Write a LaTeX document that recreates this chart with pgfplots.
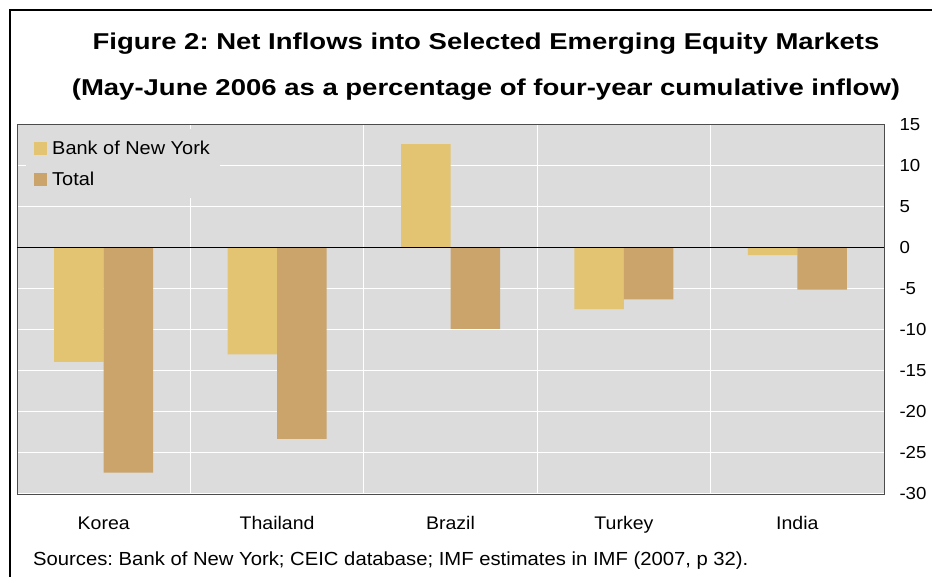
\documentclass[border=0pt]{standalone}
\usepackage{fontspec}
\setmainfont{Liberation Sans}[FakeStretch=1.07]
\newfontfamily\titlefont{Liberation Sans}[FakeStretch=1.2]
\usepackage{pgfplots}
\pgfplotsset{compat=1.18}
\definecolor{bny}{HTML}{E3C473}
\definecolor{tot}{HTML}{CBA46C}
\definecolor{bg}{HTML}{DCDCDC}
\frenchspacing
\begin{document}
\begin{tikzpicture}[x=1bp,y=1bp]
\useasboundingbox (0,0) rectangle (932,577);
\draw[line width=2bp] (10,0) -- (10,567) -- (932,567);
\node[font=\titlefont\bfseries\fontsize{23}{27}\selectfont] at (486,533) {Figure 2: Net Inflows into Selected Emerging Equity Markets};
\node[font=\titlefont\bfseries\fontsize{23}{27}\selectfont] at (486,487) {(May-June 2006 as a percentage of four-year cumulative inflow)};
\node[anchor=west, font=\fontsize{19}{22}\selectfont, inner sep=0pt] at (33,16.5) {Sources: Bank of New York; CEIC database; IMF estimates in IMF (2007, p 32).};
\begin{axis}[
  at={(17bp,83bp)}, anchor=south west,
  width=867bp, height=369.5bp, scale only axis,
  xmin=-0.5, xmax=4.5, ymin=-30, ymax=15,
  axis background/.style={fill=bg},
  axis line style={draw=black!70, line width=0.8bp},
  ybar=0pt, bar width=49.5bp,
  xtick={0,1,2,3,4},
  xticklabels={Korea,Thailand,Brazil,Turkey,India},
  minor xtick={0.5,1.5,2.5,3.5},
  minor x grid style={white, line width=1bp},
  xminorgrids=true,
  ytick={-30,-25,...,15},
  ymajorgrids=true,
  major grid style={white, line width=1bp},
  major tick length=0pt, minor tick length=0pt,
  yticklabel pos=right,
  yticklabel style={font=\fontsize{17.5}{20}\selectfont, xshift=12bp},
  xticklabel style={font=\fontsize{18.3}{21}\selectfont, yshift=-19bp},
  /pgf/number format/assume math mode=true,
  legend style={at={(0.0104,0.987)}, anchor=north west, fill=bg, draw=none,
    font=\fontsize{18.7}{22}\selectfont, row sep=12bp, inner xsep=8bp, inner ysep=9.5bp},
  legend cell align=left,
  legend image code/.code={\fill[#1, draw=none] (0bp,-6.5bp) rectangle (13bp,6.5bp); \path (16bp,0bp);},
]
\addplot[fill=bny, draw=none] coordinates {(0,-13.9) (1,-13.0) (2,12.6) (3,-7.5) (4,-0.9)};
\addlegendentry{Bank of New York}
\addplot[fill=tot, draw=none] coordinates {(0,-27.4) (1,-23.3) (2,-9.9) (3,-6.3) (4,-5.1)};
\addlegendentry{Total}
\draw[black, line width=1.2bp] (rel axis cs:0,0.6667) -- (rel axis cs:1,0.6667);
\end{axis}
\end{tikzpicture}
\end{document}
